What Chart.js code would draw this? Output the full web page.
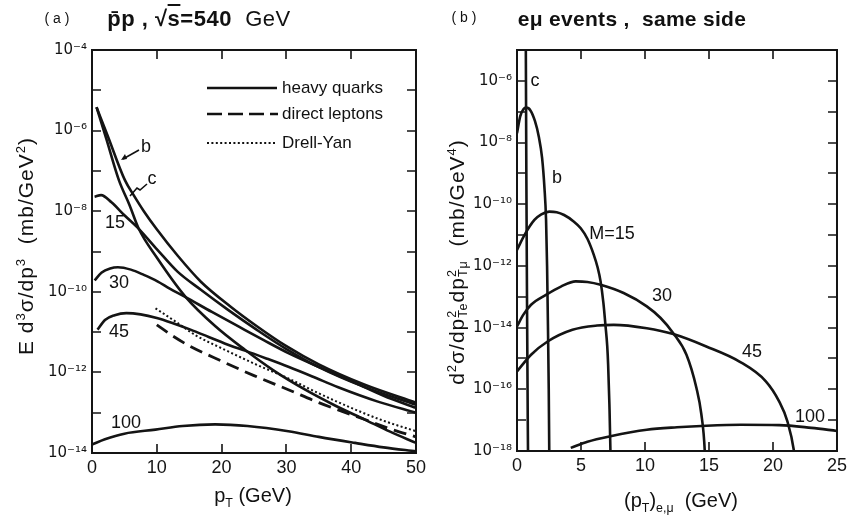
<!DOCTYPE html>
<html>
<head>
<meta charset="utf-8">
<script src="https://cdn.jsdelivr.net/npm/chart.js@4.4.0/dist/chart.umd.min.js"></script>
<style>
  body { margin: 0; background: #fff; }
  #wrap { position: relative; width: 851px; height: 521px; overflow: hidden;
          font-family: 'Liberation Sans', Arial, sans-serif; color: #111; }
  canvas { position: absolute; top: 0; }
  #ovl { position: absolute; left: 0; top: 0; pointer-events: none; }
  .t { position: absolute; transform: translate(-50%, -50%); white-space: nowrap; line-height: 1; }
  .lab { font-size: 18px; }
  .leg { position: absolute; font-size: 17px; transform: translateY(-50%); white-space: nowrap; }
  .rot { transform: translate(-50%, -50%) rotate(-90deg); font-size: 21px; letter-spacing: 1px; }
  .ss { display: inline-block; vertical-align: middle; font-size: 0.6em; line-height: 0.95; text-align: left; }
  sup, sub { font-size: 0.62em; }
</style>
</head>
<body>
<div id="wrap">
  <canvas id="chartA" width="430" height="521" style="left:0"></canvas>
  <canvas id="chartB" width="421" height="521" style="left:430px"></canvas>

  <svg id="ovl" width="851" height="521">
    <g stroke="#111" fill="none">
      <line x1="207" y1="88" x2="277" y2="88" stroke-width="2.6"/>
      <line x1="207" y1="114" x2="278" y2="114" stroke-width="2.6" stroke-dasharray="15 6"/>
      <line x1="207" y1="143" x2="276" y2="143" stroke-width="2" stroke-dasharray="2 2.4"/>
      <line x1="139" y1="150" x2="123" y2="159" stroke-width="1.6"/>
      <path d="M147 184 L140 190 L137 188 L130 196" stroke-width="1.6"/>
    </g>
    <g fill="#111">
      <path d="M121 160 L125 154 L127 159 Z"/>
    </g>
  </svg>

  <div class="t" style="left:57px;top:18px;font-size:14px">( a )</div>
  <div class="t" style="left:199px;top:19px;font-size:22px;font-weight:bold;letter-spacing:0.5px">p&#772;p , &radic;<span style="text-decoration:overline">s</span>=540 <span style="font-weight:normal">&nbsp;GeV</span></div>
  <div class="t" style="left:464px;top:17px;font-size:14px">( b )</div>
  <div class="t" style="left:632px;top:18px;font-size:21px;font-weight:bold;letter-spacing:0.3px">e&mu; events , &nbsp;same side</div>

  <div class="leg" style="left:282px;top:88px">heavy quarks</div>
  <div class="leg" style="left:282px;top:114px">direct leptons</div>
  <div class="leg" style="left:282px;top:143px">Drell-Yan</div>

  <div class="t lab" style="left:146px;top:146px">b</div>
  <div class="t lab" style="left:152px;top:178px">c</div>
  <div class="t lab" style="left:115px;top:222px">15</div>
  <div class="t lab" style="left:119px;top:282px">30</div>
  <div class="t lab" style="left:119px;top:331px">45</div>
  <div class="t lab" style="left:126px;top:422px">100</div>

  <div class="t lab" style="left:535px;top:80px">c</div>
  <div class="t lab" style="left:557px;top:177px">b</div>
  <div class="t lab" style="left:612px;top:233px">M=15</div>
  <div class="t lab" style="left:662px;top:295px">30</div>
  <div class="t lab" style="left:752px;top:351px">45</div>
  <div class="t lab" style="left:810px;top:416px">100</div>

  <div class="t rot" style="left:25px;top:246px">E d<sup>3</sup>&sigma;/dp<sup>3</sup>&nbsp; (mb/GeV<sup>2</sup>)</div>
  <div class="t" style="left:253px;top:497px;font-size:20px">p<sub>T</sub> (GeV)</div>
  <div class="t rot" style="left:458px;top:262px">d<sup>2</sup>&sigma;/dp<span class="ss">2<br>Te</span>dp<span class="ss">2<br>T&mu;</span>&nbsp; (mb/GeV<sup>4</sup>)</div>
  <div class="t" style="left:681px;top:502px;font-size:20px">(p<sub>T</sub>)<sub>e,&mu;</sub> &nbsp;(GeV)</div>
</div>

<script>
// ---- panel (a): E d3sigma/dp3 vs pT ----
const aCX = [0.7, 2.2, 4.15, 5.8, 7.2, 10, 14.4, 19, 23.6, 28, 32.9, 37.5, 42.1, 46, 50];
const aC = [3.80e-6, 6.31e-7, 5.89e-8, 1.41e-8, 3.72e-9, 7.08e-10, 7.59e-11, 1.41e-11, 3.63e-12, 1.12e-12, 3.72e-13, 1.51e-13, 6.76e-14, 3.39e-14, 1.78e-14];
const aBX = [0.7, 2.4, 5.08, 6.5, 8, 10, 13.2, 16.8, 21.4, 25.5, 30, 35, 42, 50];
const aB = [3.80e-6, 7.59e-7, 5.89e-8, 2.40e-8, 1.00e-8, 3.55e-9, 7.94e-10, 1.78e-10, 4.27e-11, 1.38e-11, 4.47e-12, 1.58e-12, 5.01e-13, 1.78e-13];
const a15X = [0.4, 1.4, 3, 5, 7, 10.1, 13.2, 16.8, 21, 25.5, 30, 35, 42, 50];
const a15 = [2.29e-8, 2.51e-8, 1.66e-8, 7.94e-9, 3.98e-9, 1.10e-9, 3.16e-10, 1.12e-10, 3.55e-11, 1.12e-11, 3.80e-12, 1.35e-12, 4.37e-13, 1.58e-13];
const a30X = [0.4, 1.5, 2.8, 4.0, 6, 8, 10.1, 12, 14.3, 18.5, 22.6, 26.5, 30.3, 35.5, 40.6, 45, 50];
const a30 = [1.91e-10, 3.02e-10, 3.80e-10, 4.07e-10, 3.55e-10, 2.63e-10, 1.82e-10, 1.20e-10, 7.59e-11, 3.16e-11, 1.38e-11, 6.31e-12, 3.02e-12, 1.26e-12, 5.50e-13, 2.63e-13, 1.32e-13];
const a45X = [0.85, 2, 3.5, 5.3, 7.5, 10, 12.5, 15.2, 18, 21.4, 23.6, 27, 30.3, 34, 38, 44, 50];
const a45 = [1.15e-11, 2.00e-11, 2.63e-11, 2.95e-11, 2.75e-11, 2.24e-11, 1.66e-11, 1.15e-11, 7.59e-12, 4.57e-12, 3.47e-12, 2.19e-12, 1.38e-12, 7.94e-13, 4.27e-13, 1.91e-13, 1.00e-13];
const a100X = [0, 2, 5, 9.8, 14, 19, 24, 30.3, 35, 40.6, 45, 50];
const a100 = [1.62e-14, 2.19e-14, 3.02e-14, 3.80e-14, 4.68e-14, 5.13e-14, 4.68e-14, 3.47e-14, 2.51e-14, 1.78e-14, 1.38e-14, 1.10e-14];
const aLepX = [10, 12.5, 15, 20, 25, 30.3, 35, 42.1, 46, 50];
const aLep = [1.51e-11, 7.94e-12, 4.57e-12, 1.91e-12, 8.32e-13, 3.72e-13, 1.78e-13, 6.76e-14, 3.98e-14, 2.51e-14];
const aDyX = [9.8, 12.9, 16, 20, 25, 30.3, 35, 40.6, 45, 50];
const aDy = [3.89e-11, 1.82e-11, 8.32e-12, 3.98e-12, 1.66e-12, 7.08e-13, 3.02e-13, 1.20e-13, 6.31e-14, 3.47e-14];

const aXTicks = [0, 10, 20, 30, 40, 50];
const aYTicks = [1e-14, 1e-12, 1e-10, 1e-8, 1e-6, 1e-4];
const aYMarks = [1e-13, 1e-12, 1e-11, 1e-10, 1e-9, 1e-8, 1e-7, 1e-6, 1e-5];
const aXMarks = [10, 20, 30, 40];

// ---- panel (b): e-mu events, same side ----
const bCX = [0.68, 0.7, 0.73, 0.78, 0.84, 0.88];
const bC = [1e-4, 1e-6, 1e-9, 1e-13, 1e-17, 1e-19];
const bBX = [0, 0.25, 0.5, 0.72, 1.05, 1.4, 1.7, 1.96, 2.15, 2.27, 2.35, 2.42, 2.48, 2.52, 2.55];
const bB = [2.00e-8, 7.08e-8, 1.20e-7, 1.35e-7, 1.10e-7, 5.01e-8, 1.58e-8, 3.16e-9, 3.16e-10, 3.16e-11, 1e-12, 1e-14, 1e-16, 1e-18, 1e-19];
const b15X = [0, 0.58, 1.36, 1.9, 2.52, 3.1, 3.68, 4.4, 4.98, 5.5, 6.0, 6.3, 6.53, 6.75, 6.91, 7.05, 7.12, 7.22, 7.3, 7.33];
const b15 = [3.31e-12, 1.00e-11, 3.09e-11, 4.68e-11, 5.75e-11, 5.50e-11, 4.47e-11, 2.82e-11, 1.66e-11, 7.59e-12, 2.29e-12, 8.91e-13, 3.16e-13, 6.31e-14, 1.20e-14, 2.51e-15, 6.31e-16, 3.16e-17, 1e-18, 1e-19];
const b30X = [0, 0.5, 1.1, 2.26, 3.43, 4.59, 5.5, 6.53, 8.33, 10.14, 11.2, 12.21, 13.24, 14.02, 14.4, 14.67, 14.75];
const b30 = [1.10e-14, 2.63e-14, 5.50e-14, 1.15e-13, 2.14e-13, 3.16e-13, 3.02e-13, 2.45e-13, 1.32e-13, 4.90e-14, 2.09e-14, 6.61e-15, 1.32e-15, 1.10e-16, 1.58e-17, 1e-18, 1e-19];
const b45X = [0, 1.1, 2.39, 4.33, 6.26, 7.56, 10.14, 12.21, 14.79, 17.38, 19.44, 20.48, 21.12, 21.64, 21.8];
const b45 = [3.80e-16, 1.32e-15, 3.55e-15, 8.51e-15, 1.17e-14, 1.23e-14, 9.55e-15, 6.17e-15, 2.45e-15, 7.94e-16, 1.82e-16, 4.07e-17, 9.33e-18, 1e-18, 2.51e-19];
const b100X = [4.2, 5.5, 7.3, 10.14, 12.5, 14.79, 17.5, 20.48, 23, 25];
const b100 = [1.26e-18, 2.00e-18, 3.02e-18, 4.90e-18, 5.89e-18, 6.61e-18, 7.08e-18, 6.92e-18, 5.62e-18, 4.47e-18];

const bXTicks = [0, 5, 10, 15, 20, 25];
const bYTicks = [1e-18, 1e-16, 1e-14, 1e-12, 1e-10, 1e-8, 1e-6];
const bYMarks = [1e-17, 1e-16, 1e-15, 1e-14, 1e-13, 1e-12, 1e-11, 1e-10, 1e-9, 1e-8, 1e-7, 1e-6];
const bXMarks = [5, 10, 15, 20];

const INK = '#141414';
const SUP = { '-': '\u207b', '0': '\u2070', '1': '\u00b9', '2': '\u00b2', '3': '\u00b3', '4': '\u2074',
              '5': '\u2075', '6': '\u2076', '7': '\u2077', '8': '\u2078', '9': '\u2079' };

function powLabel(v) {
    const e = Math.round(Math.log10(v));
    return '10' + String(e).split('').map(c => SUP[c]).join('');
}

// frame and inward tick marks, placed through the chart's own scales
const frameTicks = {
    id: 'frameTicks',
    afterDatasetsDraw(chart, args, opts) {
        const { ctx, chartArea: a, scales: { x, y } } = chart;
        ctx.save();
        ctx.strokeStyle = INK;
        ctx.lineWidth = 2;
        ctx.strokeRect(a.left, a.top, a.right - a.left, a.bottom - a.top);
        ctx.lineWidth = 1.6;
        ctx.beginPath();
        opts.xMarks.forEach(v => {
            const px = Math.round(x.getPixelForValue(v));
            ctx.moveTo(px, a.bottom); ctx.lineTo(px, a.bottom - opts.len);
            ctx.moveTo(px, a.top); ctx.lineTo(px, a.top + opts.len);
        });
        opts.yMarks.forEach(v => {
            const py = Math.round(y.getPixelForValue(v));
            ctx.moveTo(a.left, py); ctx.lineTo(a.left + opts.len, py);
            ctx.moveTo(a.right, py); ctx.lineTo(a.right - opts.len, py);
        });
        ctx.stroke();
        ctx.restore();
    }
};

function series(xs, ys, dash, width) {
    return {
        data: xs.map((x, i) => ({ x: x, y: ys[i] })),
        borderColor: INK,
        borderWidth: width || 2.6,
        borderDash: dash || [],
        pointRadius: 0,
        cubicInterpolationMode: 'monotone',
        fill: false,
        clip: 1
    };
}

function logPanel(id, sets, o) {
    return new Chart(document.getElementById(id), {
        type: 'line',
        data: { datasets: sets },
        options: {
            responsive: false,
            animation: false,
            events: [],
            layout: { padding: { top: 50, right: 11, left: 0, bottom: 0 } },
            plugins: {
                legend: { display: false },
                tooltip: { enabled: false },
                frameTicks: { xMarks: o.xMarks, yMarks: o.yMarks, len: 9 }
            },
            scales: {
                x: {
                    type: 'linear', min: o.xMin, max: o.xMax,
                    afterFit: s => { s.height = o.xh; },
                    afterBuildTicks: s => { s.ticks = o.xTicks.map(v => ({ value: v })); },
                    grid: { display: false, drawTicks: false },
                    border: { display: false },
                    ticks: { padding: 4, color: INK, maxRotation: 0, autoSkip: false,
                             font: { family: "'Liberation Sans', Arial, sans-serif", size: 18 } }
                },
                y: {
                    type: 'logarithmic', min: o.yMin, max: o.yMax,
                    afterFit: s => { s.width = o.yw; },
                    afterBuildTicks: s => { s.ticks = o.yTicks.map(v => ({ value: v })); },
                    grid: { display: false, drawTicks: false },
                    border: { display: false },
                    ticks: { padding: 5, color: INK, autoSkip: false, callback: v => powLabel(v),
                             font: { family: "'DejaVu Sans', sans-serif", size: 15 } }
                }
            }
        },
        plugins: [frameTicks]
    });
}

logPanel('chartA', [
    series(aCX, aC),
    series(aBX, aB),
    series(a15X, a15),
    series(a30X, a30),
    series(a45X, a45),
    series(a100X, a100),
    series(aLepX, aLep, [13, 7], 2.8),
    series(aDyX, aDy, [2, 2.4], 2)
], { xMin: 0, xMax: 50, yMin: 1e-14, yMax: 1e-4, xh: 68, yw: 92,
     xTicks: aXTicks, yTicks: aYTicks, xMarks: aXMarks, yMarks: aYMarks });

logPanel('chartB', [
    series(bCX, bC),
    series(bBX, bB),
    series(b15X, b15),
    series(b30X, b30),
    series(b45X, b45),
    series(b100X, b100)
], { xMin: 0, xMax: 25, yMin: 1e-18, yMax: 1e-5, xh: 70, yw: 87,
     xTicks: bXTicks, yTicks: bYTicks, xMarks: bXMarks, yMarks: bYMarks });
</script>
</body>
</html>
